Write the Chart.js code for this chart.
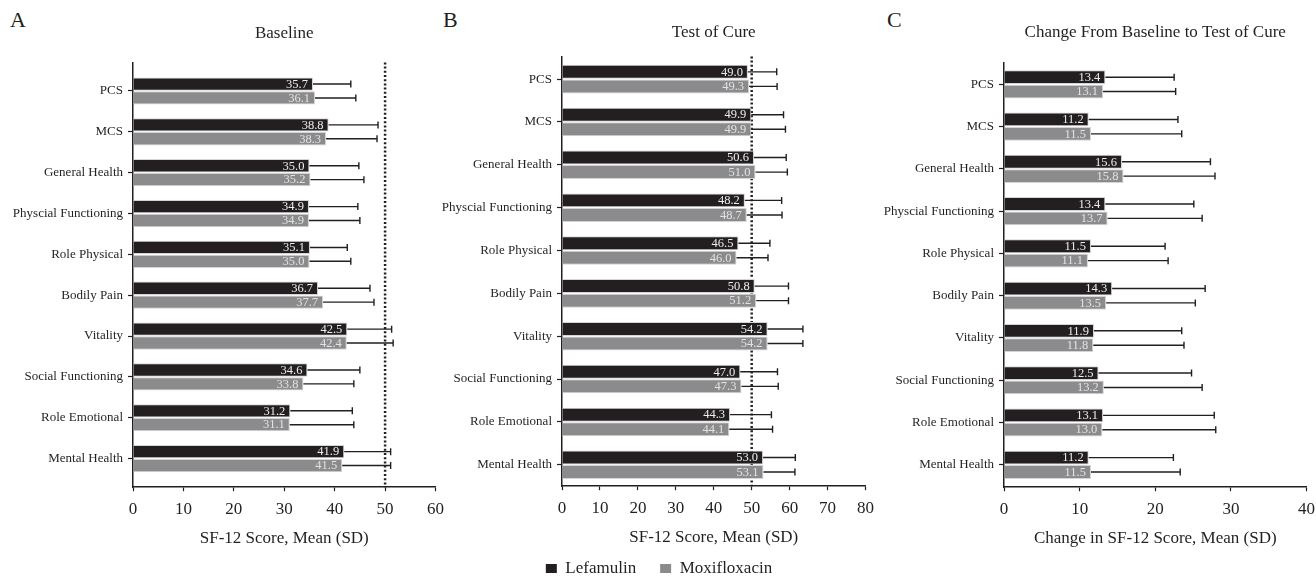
<!DOCTYPE html>
<html>
<head>
<meta charset="utf-8">
<script src="https://cdn.jsdelivr.net/npm/chart.js@4"></script>
<style>
  body { margin: 0; background: #fff; }
  #wrap { position: relative; width: 1316px; height: 576px; overflow: hidden; }
  #wrap canvas { position: absolute; top: 0; }
  .letter { position: absolute; top: 7px; font: 22px "Liberation Serif", "DejaVu Serif", serif; color: #231f20; }
</style>
</head>
<body>
<div id="wrap">
  <div class="letter" style="left:10px">A</div>
  <div class="letter" style="left:443px">B</div>
  <div class="letter" style="left:887px">C</div>
  <canvas id="chartA" width="452" height="576" style="left:0"></canvas>
  <canvas id="chartB" width="446" height="576" style="left:436px"></canvas>
  <canvas id="chartC" width="443" height="576" style="left:880px"></canvas>
</div>
<script>
// ===== Data =====
const categories = ["PCS", "MCS", "General Health", "Physcial Functioning", "Role Physical",
  "Bodily Pain", "Vitality", "Social Functioning", "Role Emotional", "Mental Health"];
const seriesNames = ["Lefamulin", "Moxifloxacin"];

const baselineLef   = [35.7, 38.8, 35.0, 34.9, 35.1, 36.7, 42.5, 34.6, 31.2, 41.9];
const baselineLefSD = [7.5, 9.8, 9.8, 9.7, 7.4, 10.3, 8.8, 10.4, 12.3, 9.2];
const baselineMox   = [36.1, 38.3, 35.2, 34.9, 35.0, 37.7, 42.4, 33.8, 31.1, 41.5];
const baselineMoxSD = [8.1, 10.1, 10.6, 10.1, 8.2, 10.1, 9.2, 10.0, 12.7, 9.6];

const tocLef   = [49.0, 49.9, 50.6, 48.2, 46.5, 50.8, 54.2, 47.0, 44.3, 53.0];
const tocLefSD = [7.6, 8.5, 8.5, 9.7, 8.3, 8.9, 9.3, 9.8, 10.9, 8.5];
const tocMox   = [49.3, 49.9, 51.0, 48.7, 46.0, 51.2, 54.2, 47.3, 44.1, 53.1];
const tocMoxSD = [7.4, 9.0, 8.4, 9.3, 8.3, 8.5, 9.3, 9.7, 11.4, 8.3];

const changeLef   = [13.4, 11.2, 15.6, 13.4, 11.5, 14.3, 11.9, 12.5, 13.1, 11.2];
const changeLefSD = [9.1, 11.8, 11.7, 11.7, 9.8, 12.3, 11.6, 12.3, 14.7, 11.2];
const changeMox   = [13.1, 11.5, 15.8, 13.7, 11.1, 13.5, 11.8, 13.2, 13.0, 11.5];
const changeMoxSD = [9.6, 12.0, 12.1, 12.5, 10.6, 11.8, 12.0, 13.0, 15.0, 11.8];

const xTicksA = [0, 60];   // min, max
const xTicksB = [0, 80];
const xTicksC = [0, 40];
const normLine = 50;       // dotted reference line

// ===== Styles =====
const serif = '"Liberation Serif", "DejaVu Serif", serif';
const ink = "#231f20";
const darkBar = "#231f20";
const grayBar = "#8b8b8d";

// error bars + value labels inside bars
const errorBars = {
  id: "errorBars",
  afterDatasetsDraw(chart) {
    const ctx = chart.ctx, xs = chart.scales.x;
    chart.data.datasets.forEach((ds, di) => {
      chart.getDatasetMeta(di).data.forEach((bar, i) => {
        const v = ds.data[i].x;
        const xEnd = xs.getPixelForValue(v + ds.sd[i]);
        ctx.save();
        ctx.strokeStyle = ink;
        ctx.lineWidth = 1.4;
        ctx.beginPath();
        ctx.moveTo(bar.x, bar.y);
        ctx.lineTo(xEnd, bar.y);
        ctx.moveTo(xEnd, bar.y - 3.5);
        ctx.lineTo(xEnd, bar.y + 3.5);
        ctx.stroke();
        ctx.fillStyle = ds.labelColor;
        ctx.font = "12.5px " + serif;
        ctx.textAlign = "right";
        ctx.textBaseline = "middle";
        ctx.fillText(v.toFixed(1), bar.x - 5, bar.y + 0.5);
        ctx.restore();
      });
    });
  }
};

// dotted line at the norm value
const refLine = {
  id: "refLine",
  beforeDatasetsDraw(chart, args, opts) {
    if (!opts.show) return;
    const { ctx, chartArea } = chart;
    const x = chart.scales.x.getPixelForValue(normLine);
    ctx.save();
    ctx.strokeStyle = ink;
    ctx.lineWidth = 2.5;
    ctx.setLineDash([2, 2.2]);
    ctx.beginPath();
    ctx.moveTo(x, chartArea.top);
    ctx.lineTo(x, chartArea.bottom);
    ctx.stroke();
    ctx.restore();
  }
};

function makePanel(id, p) {
  const mk = (name, vals, sd, color, labelColor) => ({
    label: name,
    data: vals.map((v, i) => ({ x: v, y: i })),
    sd: sd,
    labelColor: labelColor,
    backgroundColor: color,
    borderColor: "#d4d4d4",
    borderWidth: 1,
    categoryPercentage: 0.68,
    barPercentage: 0.96
  });

  return new Chart(document.getElementById(id), {
    type: "bar",
    data: {
      datasets: [
        mk(seriesNames[0], p.lef, p.lefSD, darkBar, "#ececec"),
        mk(seriesNames[1], p.mox, p.moxSD, grayBar, "#e2e2e2")
      ]
    },
    options: {
      indexAxis: "y",
      responsive: false,
      animation: false,
      layout: { padding: { left: 0, right: 0, top: 0, bottom: p.padB } },
      scales: {
        x: {
          min: p.xRange[0], max: p.xRange[1],
          ticks: { stepSize: 10, font: { family: serif, size: 17 }, color: ink, padding: 8 },
          grid: { drawOnChartArea: false, tickLength: 4, color: ink, tickWidth: 1.2 },
          border: { color: ink, width: 1.5 },
          title: { display: true, text: p.xTitle, font: { family: serif, size: 17 }, color: ink,
                   padding: { top: 1, bottom: p.titleGap || 0 } }
        },
        y: {
          type: "linear",
          reverse: true,
          offset: false,
          bounds: "data",
          min: p.yRange[0], max: p.yRange[1],
          afterBuildTicks: s => { s.ticks = categories.map((c, i) => ({ value: i })); },
          afterFit: s => { s.width = p.yWidth; },
          ticks: { callback: v => categories[v], font: { family: serif, size: 13 }, color: ink, padding: 5, autoSkip: false },
          grid: { offset: false, drawOnChartArea: false, tickLength: 5, color: ink, tickWidth: 1.2 },
          border: { color: ink, width: 1.5 }
        }
      },
      plugins: {
        tooltip: { enabled: false },
        title: {
          display: true, text: p.title, fullSize: false,
          font: { family: serif, size: 17, weight: "normal" }, color: ink,
          padding: { top: p.titleTop, bottom: p.titleBottom }
        },
        legend: {
          display: !!p.legend,
          position: "bottom",
          labels: {
            font: { family: serif, size: 17 }, color: ink,
            boxWidth: 11, boxHeight: 9, padding: 24,
            generateLabels: chart => Chart.defaults.plugins.legend.labels.generateLabels(chart)
              .map(l => ({ ...l, strokeStyle: l.fillStyle, lineWidth: 0 }))
          }
        },
        refLine: { show: p.ref }
      }
    },
    plugins: [refLine, errorBars]
  });
}

makePanel("chartA", {
  lef: baselineLef, lefSD: baselineLefSD, mox: baselineMox, moxSD: baselineMoxSD,
  xRange: xTicksA, yRange: [-0.7, 9.7], yWidth: 133, padB: 27,
  title: "Baseline", titleTop: 23, titleBottom: 19,
  xTitle: "SF-12 Score, Mean (SD)", ref: true
});

makePanel("chartB", {
  lef: tocLef, lefSD: tocLefSD, mox: tocMox, moxSD: tocMoxSD,
  xRange: xTicksB, yRange: [-0.53, 9.5], yWidth: 126, padB: -11, titleGap: -12,
  title: "Test of Cure", titleTop: 22, titleBottom: 14,
  xTitle: "SF-12 Score, Mean (SD)", ref: true, legend: true
});

makePanel("chartC", {
  lef: changeLef, lefSD: changeLefSD, mox: changeMox, moxSD: changeMoxSD,
  xRange: xTicksC, yRange: [-0.52, 9.53], yWidth: 124, padB: 27,
  title: "Change From Baseline to Test of Cure", titleTop: 22, titleBottom: 20,
  xTitle: "Change in SF-12 Score, Mean (SD)", ref: false
});
</script>
</body>
</html>
